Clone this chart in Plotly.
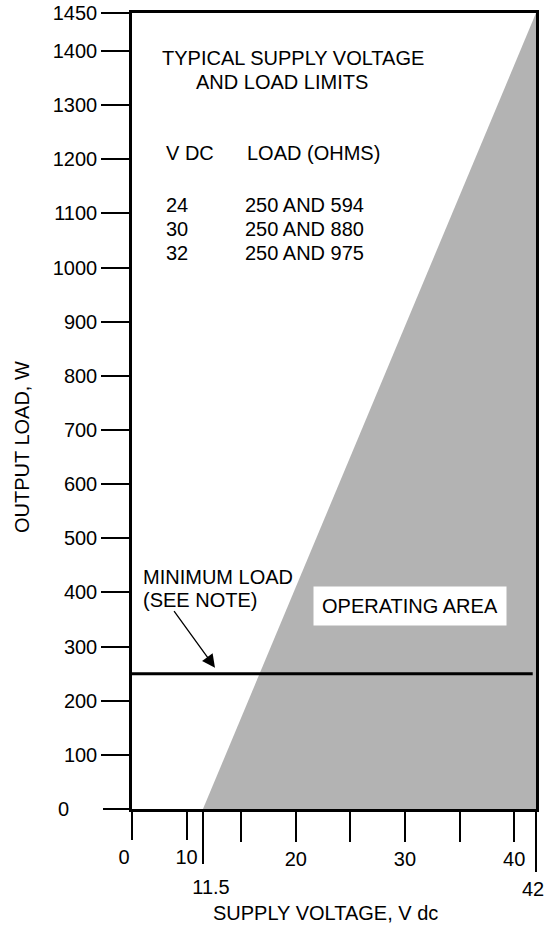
import plotly.graph_objects as go

# ---------------- data ----------------
voltage_ticks = [20, 30, 40]
voltage_low_ticks = [0, 10]
voltage_minor_ticks = [15, 25, 35]
voltage_min = 11.5          # lift-off voltage
voltage_max = 42            # maximum supply voltage
load_ticks = [0, 100, 200, 300, 400, 500, 600, 700, 800, 900, 1000, 1100, 1200, 1300, 1400, 1450]
operating_v = [11.5, 42, 42]        # operating area boundary (supply voltage)
operating_load = [0, 1450, 0]       # operating area boundary (load, ohms)
min_load = 250
min_load_v = [0, 41.7]
table_vdc = ["24", "30", "32"]
table_load = ["250 AND 594", "250 AND 880", "250 AND 975"]


# broken-axis scales as drawn in the reference
def xd(v):
    return v if v >= 10 else 5 + v * 0.5


def yd(w):
    return w if w <= 1400 else 1400 + (w - 1400) * 1.4


FONT = "Liberation Sans, Arial, Helvetica, sans-serif"
FS = 20
BLACK = "#000000"

fig = go.Figure()

# operating area (shaded)
fig.add_trace(go.Scatter(
    x=[xd(v) for v in operating_v], y=[yd(w) for w in operating_load],
    mode="lines", fill="toself", fillcolor="#b3b3b3",
    line=dict(width=0, color="#b3b3b3"), hoverinfo="skip", showlegend=False))

# minimum load line
fig.add_trace(go.Scatter(
    x=[xd(v) for v in min_load_v], y=[yd(min_load)] * 2,
    mode="lines", line=dict(color=BLACK, width=3), hoverinfo="skip", showlegend=False))

x_range = [xd(0), xd(voltage_max)]
y_range = [0, yd(1450)]

common_x = dict(range=x_range, showgrid=False, zeroline=False, fixedrange=True,
                automargin=False, ticklabeloverflow="allow",
                tickfont=dict(family=FONT, size=FS, color=BLACK),
                ticks="outside", tickcolor=BLACK, tickwidth=2, tickmode="array")
overlay_x = dict(overlaying="x", anchor="y", side="bottom", showline=False)

common_y = dict(range=y_range, showgrid=False, zeroline=False, fixedrange=True,
                automargin=False, ticklabeloverflow="allow", tickmode="array",
                ticks="outside", ticklen=28, tickwidth=2, tickcolor=BLACK,
                tickfont=dict(family=FONT, size=FS, color=BLACK))

fig.update_layout(
    width=546, height=928,
    margin=dict(l=132, r=10, t=13, b=119, autoexpand=False),
    paper_bgcolor="white", plot_bgcolor="white",
    showlegend=False,
    xaxis=dict(**common_x,
               tickvals=[xd(v) for v in voltage_ticks],
               ticktext=[str(v) for v in voltage_ticks],
               ticklen=30,
               showline=True, mirror=True, linecolor=BLACK, linewidth=2.5,
               minor=dict(tickmode="array", tickvals=voltage_minor_ticks,
                          ticks="outside", ticklen=30, tickwidth=2, tickcolor=BLACK)),
    xaxis2=dict(**common_x, **overlay_x,
                tickvals=[xd(voltage_min)], ticktext=[str(voltage_min)],
                ticklen=54, ticklabelshift=8, ticklabelstandoff=6),
    xaxis3=dict(**common_x, **overlay_x,
                tickvals=[xd(voltage_max)], ticktext=[str(voltage_max)],
                ticklen=62, ticklabelshift=-3),
    xaxis4=dict(**common_x, **overlay_x,
                tickvals=[xd(voltage_low_ticks[0])], ticktext=[str(voltage_low_ticks[0])],
                ticklen=30, ticklabelshift=-8),
    xaxis5=dict(**common_x, **overlay_x,
                tickvals=[xd(voltage_low_ticks[1])], ticktext=[str(voltage_low_ticks[1])],
                ticklen=30),
    yaxis=dict(**common_y,
               tickvals=[yd(w) for w in load_ticks[1:]],
               ticktext=[str(w) for w in load_ticks[1:]],
               showline=True, mirror=True, linecolor=BLACK, linewidth=2.5),
    yaxis2=dict(**common_y, overlaying="y", anchor="x", side="left", showline=False,
                tickvals=[yd(load_ticks[0])], ticktext=[str(load_ticks[0])],
                ticklabelstandoff=30),
)

# dummy traces so the overlay axes are rendered
for xa in ["x2", "x3", "x4", "x5"]:
    fig.add_trace(go.Scatter(x=[None], y=[None], xaxis=xa, showlegend=False, hoverinfo="skip"))
fig.add_trace(go.Scatter(x=[None], y=[None], yaxis="y2", showlegend=False, hoverinfo="skip"))


def px_x(px):
    return (px - 132) / 404.0


def px_y(py):
    return (809 - py) / 796.0


def note(text, px, py, anchor="left", **kw):
    fig.add_annotation(text=text, xref="paper", yref="paper",
                       x=px_x(px), y=px_y(py), xanchor=anchor, yanchor="middle",
                       showarrow=False, font=dict(family=FONT, size=FS, color=BLACK), **kw)


note("TYPICAL SUPPLY VOLTAGE", 160, 58)
note("AND LOAD LIMITS", 194, 82)
note("V DC", 164, 153)
note("LOAD (OHMS)", 245, 153)
rows_y = [205, 229, 253]
for vd, ld, yy in zip(table_vdc, table_load, rows_y):
    note(vd, 164, yy)
    note(ld, 243, yy)

note("MINIMUM LOAD", 141, 577)
note("(SEE NOTE)", 141, 600)
note("OPERATING AREA", 410, 606, anchor="center", bgcolor="white", borderpad=8)

# arrow pointing to the minimum-load line
fig.add_annotation(x=xd(12.6), y=yd(min_load) + 11, xref="x", yref="y",
                   text="", showarrow=True, arrowhead=2, arrowsize=2,
                   arrowwidth=1.3, arrowcolor=BLACK, ax=-42, ay=-58)

# axis titles
fig.add_annotation(text="OUTPUT LOAD, W", xref="paper", yref="paper",
                   x=0, y=px_y(447), xshift=-110, textangle=-90,
                   xanchor="center", yanchor="middle", showarrow=False,
                   font=dict(family=FONT, size=FS, color=BLACK))
fig.add_annotation(text="SUPPLY VOLTAGE, V dc", xref="paper", yref="paper",
                   x=px_x(325), y=px_y(913), xanchor="center", yanchor="middle",
                   showarrow=False, font=dict(family=FONT, size=FS, color=BLACK))

fig.write_html("out.html", config={"displayModeBar": False},
               post_script="document.body.style.margin='0px';document.body.style.overflow='hidden';")
